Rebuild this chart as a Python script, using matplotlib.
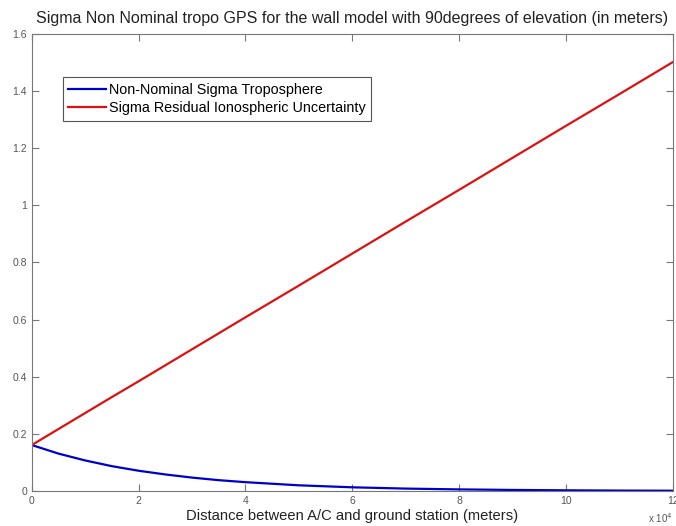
import matplotlib.pyplot as plt
import numpy as np

plt.rcParams['font.family'] = ['Liberation Sans', 'DejaVu Sans']

# distance (meters) and sigma values
distance = [0, 5000, 10000, 15000, 20000, 25000, 30000, 35000, 40000, 50000, 60000,
            70000, 80000, 90000, 100000, 110000, 120000]
sigma_tropo = [0.161, 0.131, 0.107, 0.087, 0.071, 0.058, 0.047, 0.038, 0.031, 0.020, 0.013,
               0.0085, 0.0057, 0.0038, 0.0025, 0.0016, 0.0011]
sigma_iono = [0.161, 0.217, 0.273, 0.329, 0.384, 0.440, 0.496, 0.552, 0.608, 0.719, 0.831,
              0.943, 1.054, 1.166, 1.278, 1.389, 1.501]

fig = plt.figure(figsize=(6.76, 5.26), dpi=100)
ax = fig.add_axes([0.047, 0.0665, 0.948, 0.869])

x = np.array(distance) / 1e4
ax.plot(x, sigma_tropo, color='#0000cc', lw=1.6, label='Non-Nominal Sigma Troposphere')
ax.plot(x, sigma_iono, color='#dd1111', lw=1.6, label='Sigma Residual Ionospheric Uncertainty')

ax.set_xlim(0, 12)
ax.set_ylim(0, 1.6)
ax.set_xticks(range(0, 13, 2))
ax.set_yticks([0, 0.2, 0.4, 0.6, 0.8, 1, 1.2, 1.4, 1.6])
ax.set_yticklabels(['0', '0.2', '0.4', '0.6', '0.8', '1', '1.2', '1.4', '1.6'])
ax.tick_params(direction='in', top=True, right=True, labelsize=7.5, colors='#777777',
               labelcolor='#555555', length=5, width=0.8)
for s in ax.spines.values():
    s.set_color('#777777')
    s.set_linewidth(0.8)

ax.set_title('Sigma Non Nominal tropo GPS for the wall model with 90degrees of elevation (in meters)',
             fontsize=11.5, color='#222222', pad=8)
ax.set_xlabel('Distance between A/C and ground station (meters)', fontsize=10.6, color='#222222', labelpad=2)
ax.text(1.0, -0.045, 'x 10$^4$', transform=ax.transAxes, ha='right', va='top', fontsize=7, color='#555555')

leg = ax.legend(loc='upper left', bbox_to_anchor=(0.048, 0.905), fontsize=10.4, fancybox=False,
                framealpha=1, borderpad=0.4, labelspacing=0.3, handlelength=2.6, handletextpad=0.2,
                borderaxespad=0)
leg.get_frame().set_edgecolor('#555555')
leg.get_frame().set_linewidth(0.8)

plt.savefig('out.png', dpi=100)
plt.close()
